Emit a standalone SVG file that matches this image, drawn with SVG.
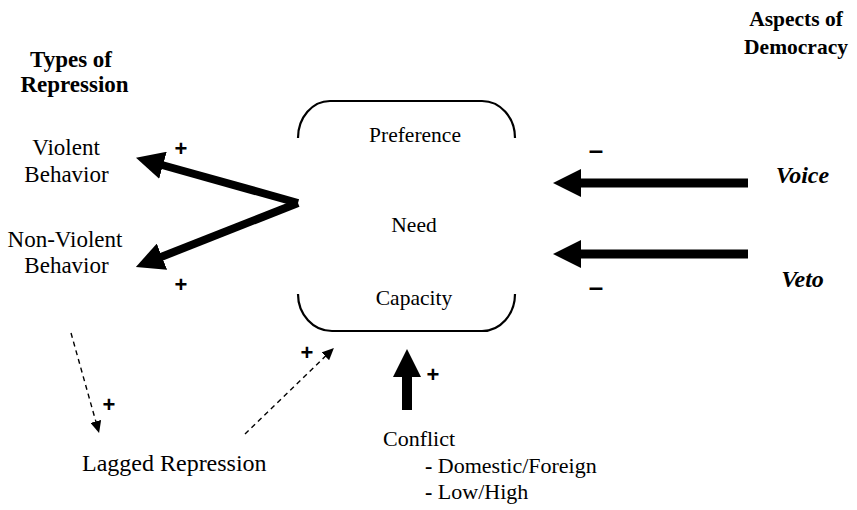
<svg xmlns="http://www.w3.org/2000/svg" width="857" height="510" viewBox="0 0 857 510">
  <style>
    .t { font-family: "Liberation Serif", "Times New Roman", Times, "DejaVu Serif", serif; fill: #000; }
    .s215 { font-size: 21.5px; }
    .s22 { font-size: 22px; }
    .s23 { font-size: 23px; }
    .s24 { font-size: 24px; }
    .b { font-weight: bold; }
    .bi { font-weight: bold; font-style: italic; }
    .sign { font-family: "Liberation Sans", Arial, sans-serif; font-weight: bold; font-size: 22px; fill: #000; text-anchor: middle; }
    .minus { font-size: 26px; }
    .box { fill: none; stroke: #000; stroke-width: 2.2; }
    .thick { fill: none; stroke: #000; }
    .dash { fill: none; stroke: #000; stroke-width: 1.4; stroke-dasharray: 5 4; }
  </style>
  <defs>
    <marker id="bigHead" markerUnits="userSpaceOnUse" viewBox="0 0 28 28" refX="1" refY="14" markerWidth="28" markerHeight="28" orient="auto">
      <path d="M0,0 L28,14 L0,28 z" fill="#000"/>
    </marker>
    <marker id="smallHead" markerUnits="userSpaceOnUse" viewBox="0 0 12 11" refX="1" refY="5.5" markerWidth="12" markerHeight="11" orient="auto">
      <path d="M0,0 L12,5.5 L0,11 z" fill="#000"/>
    </marker>
  </defs>

  <!-- headers -->
  <g id="hdr-types">
    <text class="t b s23" x="71" y="67" text-anchor="middle">Types of</text>
    <text class="t b s23" x="74.5" y="92" text-anchor="middle">Repression</text>
  </g>
  <g id="hdr-aspects">
    <text class="t b s215" x="796" y="26" text-anchor="middle">Aspects of</text>
    <text class="t b s215" x="796" y="54" text-anchor="middle">Democracy</text>
  </g>

  <!-- left nodes -->
  <g id="violent">
    <text class="t s23" x="66" y="155" text-anchor="middle">Violent</text>
    <text class="t s23" x="66.5" y="182" text-anchor="middle">Behavior</text>
  </g>
  <g id="nonviolent">
    <text class="t s23" x="65" y="247" text-anchor="middle">Non-Violent</text>
    <text class="t s23" x="66.5" y="273" text-anchor="middle">Behavior</text>
  </g>

  <!-- central node -->
  <g id="state">
    <path class="box" d="M298,138 A32,37 0 0 1 330,101 H482 A33,37 0 0 1 515,138"/>
    <path class="box" d="M298,294 A34,37 0 0 0 332,331 H482 A33,37 0 0 0 515,294"/>
    <text class="t s215" x="415" y="142" text-anchor="middle">Preference</text>
    <text class="t s215" x="414" y="232" text-anchor="middle">Need</text>
    <text class="t s215" x="414" y="305" text-anchor="middle">Capacity</text>
  </g>

  <!-- right nodes -->
  <g id="voice">
    <text class="t bi s24" x="802.5" y="183" text-anchor="middle">Voice</text>
  </g>
  <g id="veto">
    <text class="t bi s24" x="802.5" y="287" text-anchor="middle">Veto</text>
  </g>

  <!-- bottom nodes -->
  <g id="lagged">
    <text class="t s24" x="82" y="471">Lagged Repression</text>
  </g>
  <g id="conflict">
    <text class="t s22" x="383" y="446">Conflict</text>
    <text class="t s22" x="425" y="473"><tspan class="b">-</tspan> Domestic/Foreign</text>
    <text class="t s22" x="425" y="499"><tspan class="b">-</tspan> Low/High</text>
  </g>

  <!-- connectors -->
  <g id="connectors">
    <path class="thick" stroke-width="8" d="M298,203 L162,165" marker-end="url(#bigHead)"/>
    <path class="thick" stroke-width="8" d="M298,203 L161,257" marker-end="url(#bigHead)"/>
    <path class="thick" stroke-width="9" d="M748,183 L580,183" marker-end="url(#bigHead)"/>
    <path class="thick" stroke-width="9" d="M748,254 L580,254" marker-end="url(#bigHead)"/>
    <path class="thick" stroke-width="10" d="M407,410 L407,376" marker-end="url(#bigHead)"/>
    <path class="dash" d="M71,333 L96.1,422.4" marker-end="url(#smallHead)"/>
    <path class="dash" d="M245,434 L326,355.6" marker-end="url(#smallHead)"/>

    <text class="sign" x="181" y="156">+</text>
    <text class="sign" x="181" y="292">+</text>
    <text class="sign" x="433" y="382">+</text>
    <text class="sign" x="109" y="412">+</text>
    <text class="sign" x="307" y="360">+</text>
    <text class="sign minus" x="596" y="159">–</text>
    <text class="sign minus" x="596" y="296">–</text>
  </g>
</svg>
